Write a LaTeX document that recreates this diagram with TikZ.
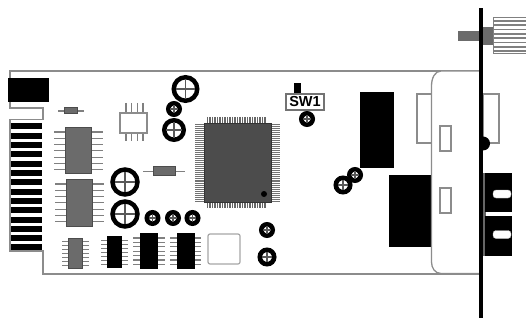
\documentclass[tikz,border=0pt]{standalone}
\usepackage{fontspec}
\setmainfont{Liberation Sans}
\usepackage{tikz}
\usetikzlibrary{positioning,calc}

\begin{document}
\begin{tikzpicture}[x=1pt, y=-1pt]
% STYLES
\tikzset{
    outline/.style={draw=black!45, line width=1.3pt},
    pin/.style={draw=black!50, line width=1.1pt},
    chip/.style={rectangle, draw=black!70, fill=black!58, line width=1pt, inner sep=0pt},
    blackchip/.style={rectangle, fill=black, inner sep=0pt},
    whitebox/.style={rectangle, draw=black!45, fill=white, line width=1.2pt, inner sep=0pt},
    bigring/.style={circle, draw=black, fill=white, line width=4.5pt, inner sep=0pt, minimum size=25pt},
    midring/.style={bigring, minimum size=19.5pt},
    padring/.style={circle, draw=black, fill=white, line width=4.6pt, inner sep=0pt, minimum size=11.4pt},
    padwide/.style={padring, minimum size=14.4pt},
    cross/.style={draw=black!65, line width=1.2pt, shorten >=4.4pt, shorten <=4.4pt}
}
\useasboundingbox (0,0) rectangle (526,320);
\fill[white] (0,0) rectangle (526,320);

% Board outline
\draw[outline] (480,71) -- (10,71) -- (10,108) -- (43,108) -- (43,119.5) -- (10,119.5)
   -- (10,251) -- (43,251) -- (43,274) -- (480,274);
\node [blackchip, minimum width=41pt, minimum height=24pt] (EdgeBlock) at (28.5,90) {};
\foreach \i in {0,...,13}
  \node [blackchip, minimum width=31pt, minimum height=6pt] (Finger\i) at (26.5,{126.5+9.3*\i}) {};

% Small parts, upper left
\draw[pin] (58,111) -- (84,111);
\node [chip, minimum width=13pt, minimum height=6pt] (DiodeA) at (70.5,111) {};
\foreach \x in {126,131.7,137.4,143} \draw[pin] (\x,103) -- (\x,141);
\node [whitebox, minimum width=27pt, minimum height=20pt] (Logic) at (133.5,123) {};
\draw[pin] (143,171.5) -- (185,171.5);
\node [chip, minimum width=22pt, minimum height=9pt] (DiodeB) at (164,171.5) {};

% Chips with pins on both sides
\foreach \i in {0,...,6} {
  \draw[pin] (54,{132+6.3*\i}) -- (103,{132+6.3*\i});
  \draw[pin] (55,{184+6.3*\i}) -- (104,{184+6.3*\i});
  \draw[pin] (62,{241.5+4*\i}) -- (89,{241.5+4*\i});
  \draw[pin] (101,{240.5+4*\i}) -- (128,{240.5+4*\i});
  \draw[pin] (133,{238+4.4*\i}) -- (165,{238+4.4*\i});
  \draw[pin] (170,{238+4.4*\i}) -- (201,{238+4.4*\i});
}
\node [chip, minimum width=26pt, minimum height=46pt] (RamA) at (78,151) {};
\node [chip, minimum width=26pt, minimum height=46pt] (RamB) at (79,203) {};
\node [chip, minimum width=14pt, minimum height=30pt] (BufA) at (75,253) {};
\node [blackchip, minimum width=15pt, minimum height=32pt] (BufB) at (114.5,252) {};
\node [blackchip, minimum width=18pt, minimum height=36pt] (BufC) at (149,251) {};
\node [blackchip, minimum width=18pt, minimum height=36pt] (BufD) at (185.5,251) {};
\node [whitebox, draw=black!35, rounded corners=2pt, minimum width=32pt, minimum height=30pt] (Socket) at (224,249) {};

% Main processor
\foreach \i in {0,...,38}
  \draw[draw=black!55, line width=1pt] (195,{125+2*\i}) -- (280,{125+2*\i});
\foreach \i in {0,...,23}
  \draw[draw=black!60, line width=1.1pt] ({207.5+2.5*\i},117) -- ({207.5+2.5*\i},208);
\node [chip, fill=black!70, draw=black!80, minimum width=67pt, minimum height=78pt] (Cpu) at (237.5,163) {};
\node [circle, fill=black, inner sep=0pt, minimum size=6pt] (CpuDot) at (264,194) {};

% Rings and pads
\node [bigring, minimum size=23.5pt] (RingA) at (185.5,89) {};
\node [padring] (PadA) at (174,109) {};
\node [midring] (RingB) at (174,130) {};
\node [bigring] (RingC) at (125,182) {};
\node [bigring] (RingD) at (125,214) {};
\node [padring] (PadB) at (152.5,218) {};
\node [padring] (PadC) at (173,218) {};
\node [padring] (PadD) at (192.5,218) {};
\node [padring] (PadE) at (267,230) {};
\node [padwide] (PadF) at (267,257) {};
\node [padring] (PadG) at (307,119) {};
\node [padring] (PadH) at (355,175) {};
\node [padwide] (PadI) at (343,185) {};
\foreach \r in {RingA,RingB,RingC,RingD,PadA,PadB,PadC,PadD,PadE,PadF,PadG,PadH,PadI} {
  \draw[cross] (\r.north) -- (\r.south);
  \draw[cross] (\r.west) -- (\r.east);
}

% Switch
\node [blackchip, minimum width=7pt, minimum height=11pt] (SwitchTop) at (297.5,88.5) {};
\node [whitebox, draw=black!55, minimum width=38pt, minimum height=16pt,
   font=\fontsize{14.5}{15}\selectfont\bfseries] (SwitchLabel) at (305,102) {SW1};

% Blocks next to the panel
\node [blackchip, minimum width=34pt, minimum height=76pt] (BlockA) at (377,130) {};
\node [blackchip, minimum width=43pt, minimum height=72pt] (BlockB) at (410.5,211) {};

% Panel
\node [whitebox, minimum width=15pt, minimum height=49pt] (ClipA) at (424.5,118.5) {};
\node [whitebox, minimum width=16pt, minimum height=49pt] (ClipB) at (491,118.5) {};
\draw[outline, fill=white] (480,71) -- (441,71) .. controls (435,71) and (431.5,78) .. (431.5,86)
   -- (431.5,262) .. controls (431.5,268) and (435,273.5) .. (441,273.5) -- (480,273.5);
\node [whitebox, minimum width=11pt, minimum height=25pt] (SlotA) at (445.5,138.5) {};
\node [whitebox, minimum width=11pt, minimum height=25pt] (SlotB) at (445.5,200.5) {};

% Screw
\node [rectangle, fill=black!58, inner sep=0pt, minimum width=21pt, minimum height=10pt] (ScrewShaft) at (468.5,36) {};
\node [rectangle, fill=black!58, inner sep=0pt, minimum width=10pt, minimum height=18pt] (ScrewNeck) at (488,36) {};
\node [rectangle, draw=black!50, fill=white, line width=1pt, inner sep=0pt, minimum width=33pt, minimum height=36pt] (ScrewKnob) at (509.5,36) {};
\foreach \i in {0,...,7}
  \draw[draw=black!50, line width=1.7pt] (493,{21+4.3*\i}) -- (526,{21+4.3*\i});

% Optical connector
\fill[black] (483,150.5) arc (90:-90:7);
\node [rectangle, fill=black!60, inner sep=0pt, minimum width=3pt, minimum height=83pt] (PortEdge) at (484,214.5) {};
\node [blackchip, minimum width=27pt, minimum height=39pt] (PortA) at (498.5,192.5) {};
\node [blackchip, minimum width=27pt, minimum height=40pt] (PortB) at (498.5,236) {};
\node [rectangle, fill=white, draw=black!30, rounded corners=3pt, inner sep=0pt, minimum width=18pt, minimum height=8pt] (PortSlotA) at (502,194) {};
\node [rectangle, fill=white, draw=black!30, rounded corners=3pt, inner sep=0pt, minimum width=18pt, minimum height=8pt] (PortSlotB) at (502,234.5) {};

% Front plate
\node [blackchip, minimum width=4pt, minimum height=310pt] (Plate) at (481,163) {};
\end{tikzpicture}
\end{document}
